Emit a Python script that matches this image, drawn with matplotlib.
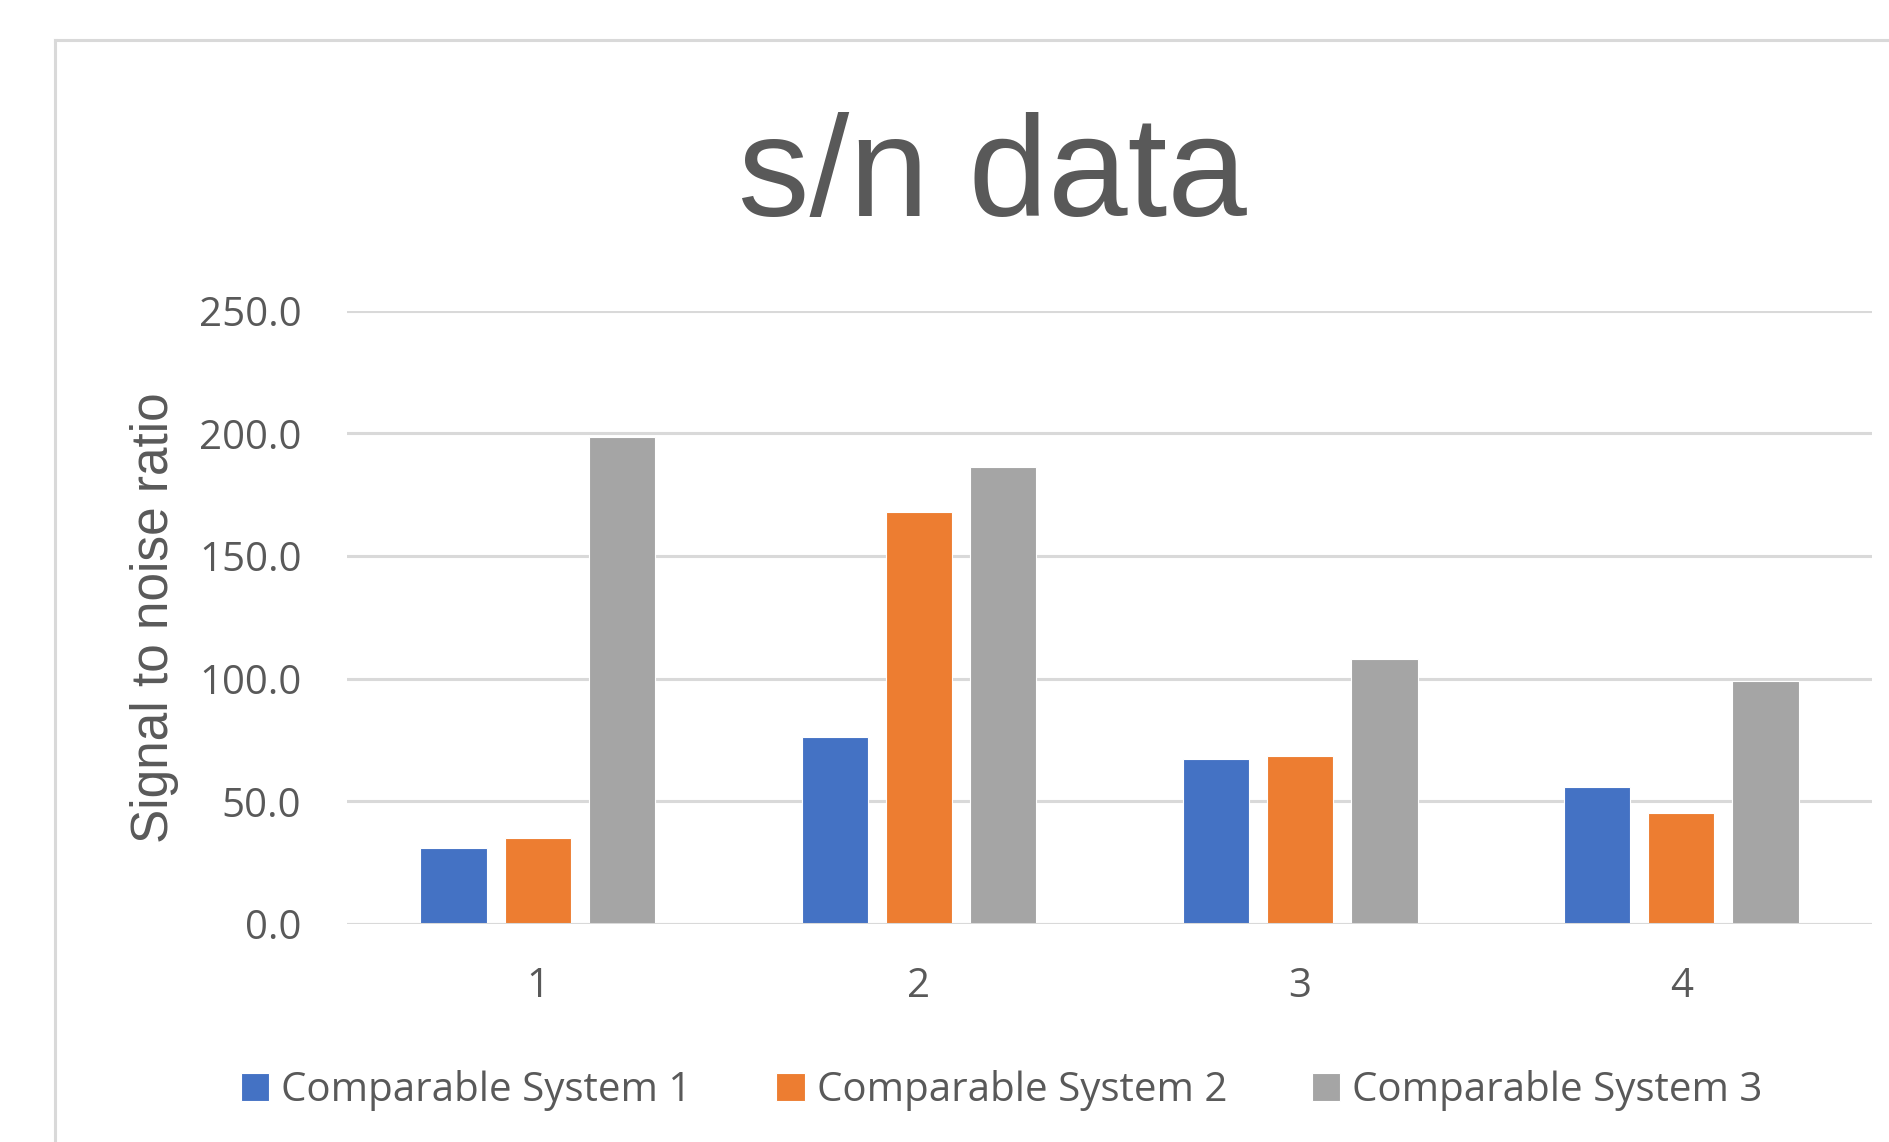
import numpy as np
import matplotlib
matplotlib.use('Agg')
import matplotlib.pyplot as plt
from matplotlib.lines import Line2D

categories = ["1", "2", "3", "4"]
series_names = ["Comparable System 1", "Comparable System 2", "Comparable System 3"]
system1 = [30.9, 76.1, 67.3, 56.0]
system2 = [34.9, 168.0, 68.3, 45.2]
system3 = [198.4, 186.2, 108.0, 99.2]
colors = ["#4472C4", "#ED7D31", "#A5A5A5"]
yticks = [0, 50, 100, 150, 200, 250]

TEXT = "#595959"
GRID = "#D9D9D9"

fig = plt.figure(figsize=(18.9, 11.42), dpi=100)
ax = fig.add_axes([0.1837, 0.191, 0.8067, 0.5368])

x = np.arange(len(categories))
w = 0.174; step = 0.221
for i, (vals, c, nm) in enumerate(zip([system1, system2, system3], colors, series_names)):
    ax.bar(x + (i - 1) * step, vals, w, color=c, label=nm, zorder=3,
           edgecolor="white", linewidth=0.8)

ax.set_xlim(-0.5, 3.5); ax.set_ylim(0, 250)
ax.set_yticks(yticks)
ax.set_yticklabels([f"{v:.1f}" for v in yticks], fontsize=29, color=TEXT, family="Open Sans")
ax.set_xticks(x)
ax.set_xticklabels(categories, fontsize=29, color=TEXT, family="Open Sans")
ax.tick_params(axis="both", length=0)
ax.tick_params(axis="y", pad=33)
ax.tick_params(axis="x", pad=31)
ax.grid(axis="y", color=GRID, linewidth=2.2, zorder=0)
for s in ax.spines.values(): s.set_visible(False)
ax.axhline(0, color=GRID, linewidth=2.2, zorder=4)

ax.set_ylabel("Signal to noise ratio", fontsize=37, color=TEXT, family="Liberation Sans", labelpad=14)
fig.text(0.525, 0.843, "s/n data", ha="center", va="center", fontsize=103,
         color=TEXT, family="Liberation Sans")

fig.legend(loc="center", bbox_to_anchor=(0.53, 0.045), ncol=3, frameon=False,
           prop={"family": "Open Sans", "size": 29}, labelcolor=TEXT,
           handlelength=0.7, handleheight=0.7, handletextpad=0.3, columnspacing=2.1)

# chart area border (cropped)
fig.add_artist(Line2D([0.0293, 0.0293], [0, 0.965], color=GRID, linewidth=2.2))
fig.add_artist(Line2D([0.0293, 1.0], [0.965, 0.965], color=GRID, linewidth=2.2))

plt.savefig("out.png", dpi=100)
plt.close()
